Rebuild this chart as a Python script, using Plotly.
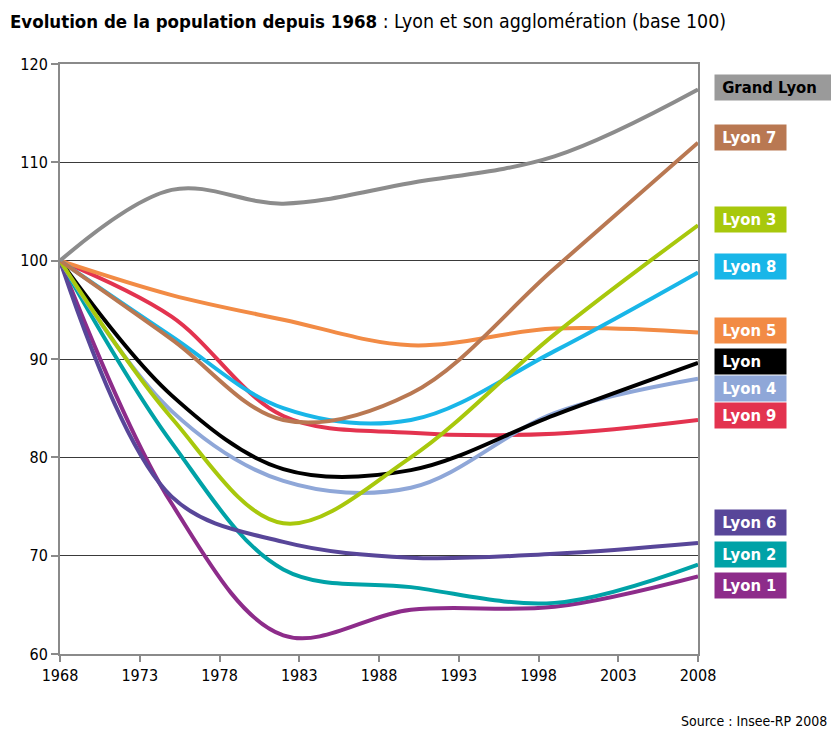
import plotly.graph_objects as go

# ---- data ----
years = [1968, 1975, 1982, 1990, 1999, 2008]
series_names = ["Grand Lyon", "Lyon 7", "Lyon 3", "Lyon 8", "Lyon 5", "Lyon",
                "Lyon 4", "Lyon 9", "Lyon 6", "Lyon 2", "Lyon 1"]
grand_lyon = [100, 107.2, 105.8, 107.9, 110.6, 117.4]
lyon_7 = [100, 92.0, 83.8, 86.5, 99.2, 112.0]
lyon_3 = [100, 84.0, 73.3, 80.0, 92.5, 103.6]
lyon_8 = [100, 92.3, 85.0, 83.8, 90.8, 98.8]
lyon_5 = [100, 96.5, 94.0, 91.4, 93.1, 92.7]
lyon = [100, 86.3, 78.8, 78.7, 84.3, 89.6]
lyon_4 = [100, 84.7, 77.6, 76.9, 84.5, 88.0]
lyon_9 = [100, 94.3, 84.2, 82.5, 82.4, 83.8]
lyon_6 = [100, 76.0, 71.4, 69.8, 70.2, 71.3]
lyon_2 = [100, 81.5, 68.6, 66.8, 65.2, 69.1]
lyon_1 = [100, 75.3, 61.9, 64.5, 64.8, 67.9]
x_ticks = [1968, 1973, 1978, 1983, 1988, 1993, 1998, 2003, 2008]

values = [grand_lyon, lyon_7, lyon_3, lyon_8, lyon_5, lyon,
          lyon_4, lyon_9, lyon_6, lyon_2, lyon_1]

# ---- styles / layout positions ----
colors = ["#8c8c8c", "#b97852", "#a8c80c", "#19b6e8", "#f28b45", "#000000",
          "#8fa7d8", "#e3334f", "#584699", "#00a2a7", "#8d2c8a"]
box_colors = ["#9a9a9a"] + colors[1:]
label_y = [117.6, 112.5, 104.2, 99.4, 92.9, 89.7, 87.0, 84.3, 73.4, 70.1, 67.0]

FONT = "DejaVu Sans Condensed, Liberation Sans Narrow, sans-serif"

W, H = 831, 733

fig = go.Figure()
for name, vals, col in reversed(list(zip(series_names, values, colors))):
    fig.add_trace(go.Scatter(
        x=years, y=vals, mode="lines", name=name,
        line=dict(color=col, width=4, shape="spline", smoothing=1.0),
        showlegend=False, hoverinfo="x+y+name"))

annotations = []
for name, ly, bc in zip(series_names, label_y, box_colors):
    is_gl = name == "Grand Lyon"
    annotations.append(dict(
        xref="paper", yref="y", x=1, y=ly, xshift=16,
        xanchor="left", yanchor="middle",
        text="<b>&nbsp;" + name + "</b>", showarrow=False, align="left",
        width=113 if is_gl else 67, height=21, borderpad=2,
        bgcolor=bc,
        font=dict(family=FONT, size=16.5, color="#000000" if is_gl else "#ffffff")))

annotations.append(dict(
    xref="paper", yref="paper", x=1, xshift=131, y=0, yshift=-67,
    xanchor="right", yanchor="middle", showarrow=False,
    text="Source : Insee-RP 2008",
    font=dict(family=FONT, size=14, color="#000000")))

fig.update_layout(
    width=W, height=H,
    margin=dict(l=60, r=133, t=64, b=79),
    paper_bgcolor="white", plot_bgcolor="white",
    title=dict(text="<b>Evolution de la population depuis 1968</b>"
                    "<span style='font-size:19.4px'> : Lyon et son agglomération (base 100)</span>",
               x=10 / W, xanchor="left", y=1 - 22 / H, yanchor="middle",
               font=dict(family=FONT, size=18.5, color="#000000")),
    annotations=annotations,
    xaxis=dict(range=[1968, 2008], tickvals=x_ticks, showgrid=False,
               showline=True, linecolor="#8a8a8a", linewidth=2, mirror=True,
               ticks="outside", ticklen=6, tickcolor="#8a8a8a", tickwidth=2,
               tickfont=dict(family=FONT, size=16, color="#000000"),
               zeroline=False, fixedrange=True, automargin=False),
    yaxis=dict(range=[60, 120], dtick=10, showgrid=True, gridcolor="#3a3a3a",
               gridwidth=1.3, showline=True, linecolor="#8a8a8a", linewidth=2,
               mirror=True, ticks="outside", ticklen=7, tickcolor="#8a8a8a",
               tickwidth=2, tickfont=dict(family=FONT, size=16, color="#000000"),
               zeroline=False, fixedrange=True, automargin=False),
)

fig.write_html(
    "out.html",
    config={"displayModeBar": False},
    post_script="document.body.style.margin='0';document.body.style.overflow='hidden';",
)
